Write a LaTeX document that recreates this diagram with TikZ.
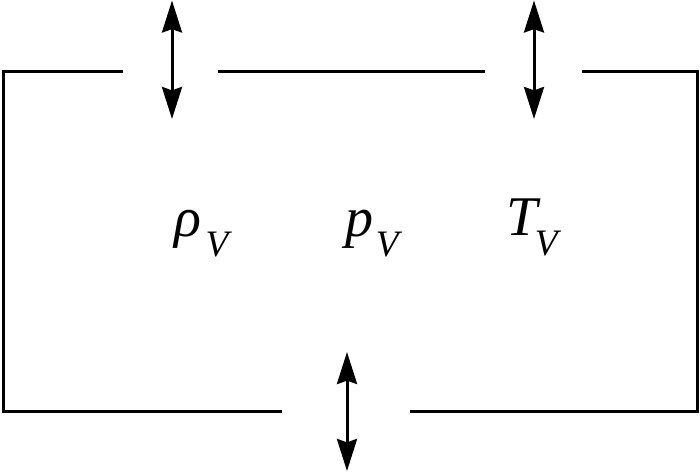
\documentclass[tikz,border=0pt]{standalone}
\usepackage{fontspec}
\setmainfont{Liberation Serif}
\usetikzlibrary{arrows.meta}
\newcommand{\subsz}{\fontsize{28}{30}\selectfont}
\newcommand{\subV}{\raisebox{-15pt}{\subsz V}}
\begin{document}
\begin{tikzpicture}[x=0.75pt,y=-0.75pt,
  wall/.style={line width=2.25pt, line cap=butt, line join=miter},
  flow/.style={line width=2.25pt, {Stealth[length=24pt,width=15pt,inset=2.5pt]}-{Stealth[length=24pt,width=15pt,inset=2.5pt]}},
  qty/.style={anchor=base west, inner sep=0pt, font=\fontsize{42}{46}\selectfont\itshape}]
\useasboundingbox (0,0) rectangle (700,473);
% walls
\draw[wall] (123,72) -- (3,72) -- (3,412) -- (282,412);
\draw[wall] (218,72) -- (485,72);
\draw[wall] (582,72) -- (697.5,72) -- (697.5,412) -- (410,412);
% arrow end points
\coordinate (a1t) at (172,0.5);
\coordinate (a1b) at (172,119);
\coordinate (a2t) at (534,0.5);
\coordinate (a2b) at (534,119);
\coordinate (a3t) at (347,352);
\coordinate (a3b) at (347,471);
\draw[flow] (a1t) -- (a1b);
\draw[flow] (a2t) -- (a2b);
\draw[flow] (a3t) -- (a3b);
% labels
\node[qty] (rho) at (174,237) {\makebox[23.5pt][l]{ρ}\subV};
\node[qty] (p) at (345,237) {\makebox[23pt][l]{p}\subV};
\node[qty] (T) at (506,236) {\makebox[21.5pt][l]{T}\subV};
\end{tikzpicture}
\end{document}
